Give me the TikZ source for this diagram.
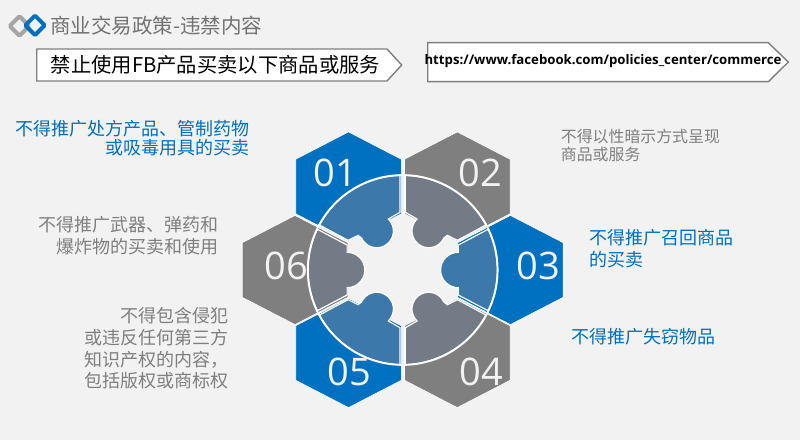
\documentclass[tikz,border=0pt]{standalone}
\usepackage{fontspec}
\setmainfont{Noto Sans CJK SC}
\newfontfamily\numfont{Open Sans}
\definecolor{bgpage}{HTML}{F2F2F2}
\definecolor{hexblue}{HTML}{0070C0}
\definecolor{hexgray}{HTML}{7F7F7F}
\definecolor{partblue}{HTML}{3D78AB}
\definecolor{partgray}{HTML}{737B87}
\definecolor{logogray}{HTML}{A6A6A6}
\tikzset{
  numlabel/.style={text=bgpage,inner sep=0pt,font=\numfont\fontsize{38}{38}\selectfont},
  banner/.style={fill=white,draw=hexgray,line width=1.4pt},
  bluenote/.style={text=hexblue,inner sep=0pt,font=\fontsize{18}{21.8}\selectfont},
  graynote/.style={text=hexgray,inner sep=0pt,font=\fontsize{18}{21.8}\selectfont},
}
\begin{document}
\begin{tikzpicture}[x=1pt,y=1pt]
\useasboundingbox (0,0) rectangle (800,440);
\fill[bgpage] (0,0) rectangle (800,440);
% logo
\draw[logogray,line width=4pt,rounded corners=1pt] (19.5,423.7) -- (29.2,414) -- (19.5,404.3) -- (9.8,414) -- cycle;
\draw[hexblue,line width=4pt,rounded corners=1pt] (35,424.4) -- (44.7,414.7) -- (35,405) -- (25.3,414.7) -- cycle;
\node[anchor=west,inner sep=0pt,text=hexgray!90!black,font=\fontsize{20.5}{24}\selectfont] (title) at (50,414) {商业交易政策-违禁内容};
% banners
\draw[banner] (36.7,391) -- (387,391) -- (401.7,375) -- (387,359) -- (36.7,359) -- cycle;
\node[anchor=west,inner sep=0pt,text=black,font=\fontsize{20.3}{24}\selectfont] (ruletext) at (50.7,375) {禁止使用FB产品买卖以下商品或服务};
\draw[banner] (427.7,397.3) -- (768.3,397.3) -- (788.3,378) -- (768.3,358.3) -- (427.7,358.3) -- cycle;
\node[anchor=center,inner sep=0pt,text=black,font=\numfont\bfseries\fontsize{13.2}{16}\selectfont] (urltext) at (603,379) {https://www.facebook.com/policies\_center/commerce};
% hexagons
\foreach \cx/\cy/\col in {348.5/253.5/hexblue,457.3/253.5/hexgray,510.4/170/hexblue,457.3/87/hexgray,348.5/87/hexblue,295/170/hexgray} {
 \filldraw[fill=\col,draw=white,line width=0.6pt] (\cx,\cy+54.6) --++(52.8,-27.3) --++(0,-54.6) --++(-52.8,-27.3) --++(-52.8,27.3) --++(0,54.6) -- cycle;
}
% inner parts
\foreach \sx/\sy/\col in {1/1/partblue,-1/1/partgray,-1/-1/partgray,1/-1/partblue} {
 \begin{scope}[shift={(402.7,170)},xscale=\sx,yscale=\sy]
 \filldraw[fill=\col,draw=white,line width=1.2pt] (91.6:94.5) arc[start angle=91.6,end angle=151.6,radius=94.5] -- (-54.7,29.7) -- (-44.7,34.7) -- (-41.1,31.9) arc[start angle=205,end angle=406,radius=16.7] -- (-2.7,57.7) -- cycle;
 \end{scope}
}
\foreach \sx/\col in {1/partblue,-1/partgray} {
 \begin{scope}[shift={(402.7,170)},xscale=\sx]
 \filldraw[fill=\col,draw=white,line width=1.2pt] (25.5:94.5) arc[start angle=25.5,end angle=-25.5,radius=94.5] -- (55.6,-25) -- (55.6,-17.7) arc[start angle=-90,end angle=-270,radius=17.7] -- (55.6,25) -- cycle;
 \end{scope}
}
\draw[white,line width=1.7pt] (402.7,170) circle (95);
% numbers
\node[numlabel] (n01) at (335,267) {01};
\node[numlabel] (n02) at (480,267) {02};
\node[numlabel] (n03) at (538,174) {03};
\node[numlabel] (n04) at (481,68.3) {04};
\node[numlabel] (n05) at (349.3,68.3) {05};
\node[numlabel] (n06) at (286.7,174) {06};
% notes
\node[bluenote,anchor=east,align=right,font=\fontsize{18}{18.7}\selectfont] (note01) at (250,301.6) {不得推广处方产品、管制药物\\或吸毒用具的买卖};
\node[graynote,anchor=west,align=left,font=\fontsize{15.9}{17.7}\selectfont] (note02) at (560.7,294.5) {不得以性暗示方式呈现\\商品或服务};
\node[bluenote,anchor=west,align=left] (note03) at (589.3,191.2) {不得推广召回商品\\的买卖};
\node[bluenote,anchor=west] (note04) at (571.7,103.3) {不得推广失窃物品};
\node[graynote,anchor=east,align=right] (note05) at (228.3,91.6) {不得包含侵犯\\或违反任何第三方\\知识产权的内容，\\包括版权或商标权};
\node[graynote,anchor=east,align=right] (note06) at (218.3,204) {不得推广武器、弹药和\\爆炸物的买卖和使用};
\end{tikzpicture}
\end{document}
